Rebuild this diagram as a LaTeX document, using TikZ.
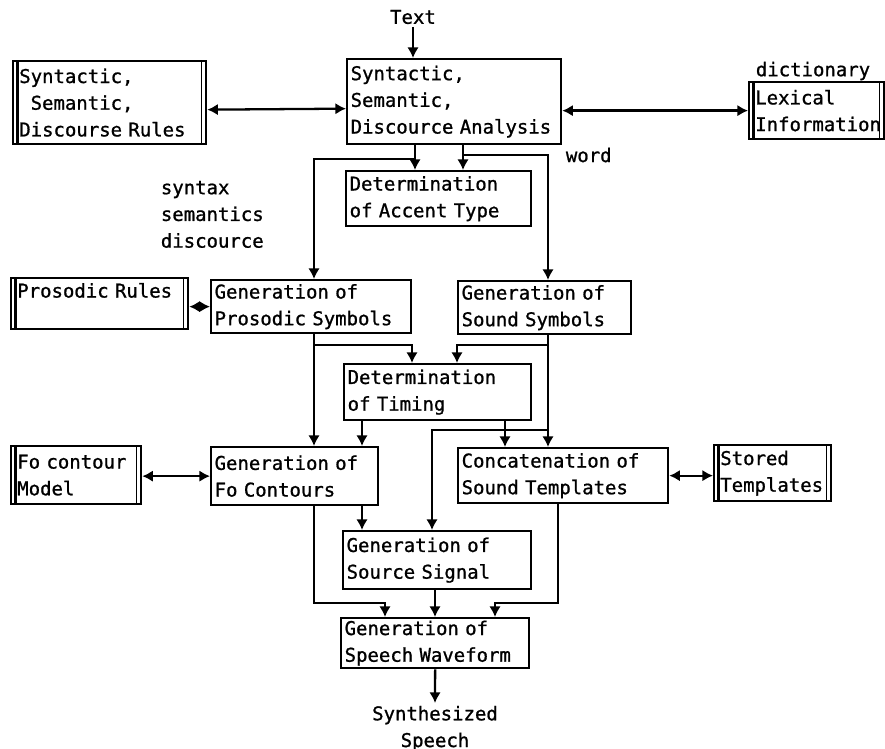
\documentclass[tikz,border=0pt]{standalone}
\usepackage{fontspec}
\setmonofont[FakeBold=1]{DejaVu Sans Mono}
\usetikzlibrary{positioning,calc,arrows.meta}

\tikzset{
  box/.style={draw,line width=1.3pt,anchor=north west,align=left,inner xsep=2pt,inner ysep=0pt},
  store/.style={box,inner xsep=3.5pt,path picture={
    \draw[line width=1.3pt]([xshift=2.5pt]path picture bounding box.north west)--([xshift=2.5pt]path picture bounding box.south west);
    \draw[line width=0.7pt]([xshift=-2.5pt]path picture bounding box.north east)--([xshift=-2.5pt]path picture bounding box.south east);
  }},
  lbl/.style={align=left,inner sep=1pt},
}

\begin{document}
\begin{tikzpicture}[x=0.02cm,y=-0.02cm,line width=1.3pt,>={Latex[length=6pt,width=6.5pt]},
  font=\ttfamily\fontsize{10.8}{15.2}\selectfont]
\useasboundingbox (0,0) rectangle (885,749);

% processing steps
\foreach \n/\x/\y/\w/\h/\t in {
  ana/346/58/214/85/{Syntactic,\\Semantic,\\Discource~Analysis},
  acc/345/170/185/55/{Determination\\of~Accent~Type},
  pro/210/279/200/53/{Generation~of\\Prosodic~Symbols},
  snd/457/280/173/53/{Generation~of\\Sound~Symbols},
  tim/343/363/187/56/{Determination\\of~Timing},
  foc/210/446/167/58/{Generation~of\\Fo~Contours},
  cat/457/447/210/55/{Concatenation~of\\Sound~Templates},
  src/342/530/188/58/{Generation~of\\Source~Signal},
  wav/340/617/188/50/{Generation~of\\Speech~Waveform}}{
  \pgfmathsetlengthmacro\tw{\w*0.02cm-4pt}
  \node[box,text width=\tw,minimum height=\h*0.02cm](\n) at (\x,\y) {\t};
}
% rules and data
\foreach \n/\x/\y/\w/\h/\t in {
  srule/12/60/193/83/{Syntactic,\\\hspace*{0.6em}Semantic,\\Discourse~Rules},
  lex/748/81/135/57/{Lexical\\Information},
  prule/10/277/177/51/{Prosodic~Rules\\\mbox{}},
  fom/10/445/130/58/{Fo~contour\\Model},
  sto/713/444/117/56/{Stored\\Templates}}{
  \pgfmathsetlengthmacro\tw{\w*0.02cm-7pt}
  \node[store,text width=\tw,minimum height=\h*0.02cm](\n) at (\x,\y) {\t};
}

\node[lbl](txt) at (413,17) {Text};
\node[lbl,anchor=west](word) at (563,155) {word};
\node[lbl,anchor=north west](sem) at (158,178) {syntax\\semantics\\discource};
\node[lbl,anchor=west](dict) at (753,71) {dictionary};
\node[lbl,align=center,anchor=north](syn) at (435,703) {Synthesized\\Speech};

% rails
\foreach \n/\x in {a1/415,a2/463,pl/314,sr/548,t1/412,t2/457,f1/362,c2/505,s1/432,w0/435,w1/385,w2/495,cx/558}{
  \coordinate(\n) at (\x,0);
}
\foreach \n/\y in {yb1/159,yb2/155,yb3/345,yb4/430,yb5/603}{
  \coordinate(\n) at (0,\y);
}

\draw[->](txt)--(txt|-ana.north);
\draw[<->]([yshift=-4pt]srule.east)--([yshift=-4pt]ana.west);
\draw[<->](ana.east|-lex.west)--(lex.west);
\draw[<->](prule.east|-pro.west)--(pro.west);
\draw[<->](fom.east|-foc.west)--(foc.west);
\draw[<->](cat.east)--(sto.west|-cat.east);

\draw[->](a1|-ana.south)--(a1|-acc.north);
\draw[->](a2|-ana.south)--(a2|-acc.north);
\draw[->](a1|-yb1)-|(pl|-pro.north);
\draw[->](a2|-yb2)-|(sr|-snd.north);

\draw[->](pl|-pro.south)--(pl|-foc.north);
\draw[->](pl|-yb3)-|(t1|-tim.north);
\draw[->](sr|-snd.south)--(sr|-cat.north);
\draw[->](sr|-yb3)-|(t2|-tim.north);

\draw[->](f1|-tim.south)--(f1|-foc.north);
\draw[->](c2|-tim.south)--(c2|-cat.north);
\draw[->](sr|-yb4)-|(s1|-src.north);
\draw[->](f1|-foc.south)--(f1|-src.north);

\draw[->](pl|-foc.south)|-(w1|-yb5)--(w1|-wav.north);
\draw[->](w0|-src.south)--(w0|-wav.north);
\draw[->](cx|-cat.south)|-(w2|-yb5)--(w2|-wav.north);
\draw[->](wav.south)--(syn.north);
\end{tikzpicture}
\end{document}
